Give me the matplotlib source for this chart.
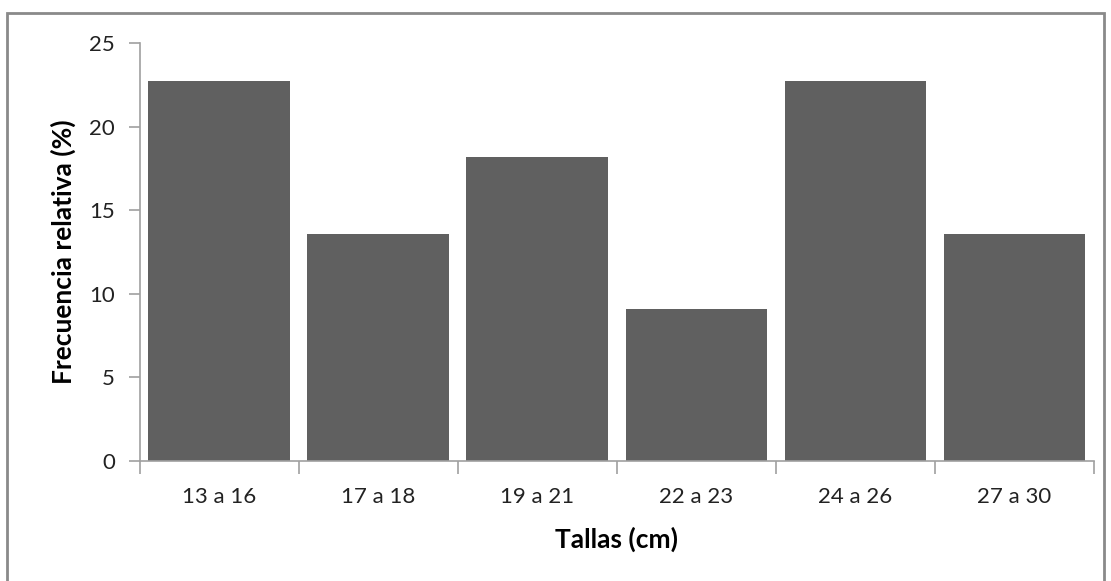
import matplotlib
matplotlib.use('Agg')
import matplotlib.pyplot as plt
import numpy as np

tallas = ['13 a 16', '17 a 18', '19 a 21', '22 a 23', '24 a 26', '27 a 30']
frecuencia = [22.7, 13.6, 18.2, 9.1, 22.7, 13.6]

plt.rcParams['font.family'] = ['Lato', 'DejaVu Sans']

fig = plt.figure(figsize=(11.11, 5.81), dpi=100)
ax = fig.add_axes([0.126, 0.2065, 0.8587, 0.7195])

x = np.arange(len(tallas))
ax.bar(x, frecuencia, width=0.893, color='#606060', zorder=2)

ax.set_xlim(-0.5, len(tallas) - 0.5)
ax.set_ylim(0, 25)
ax.set_yticks([0, 5, 10, 15, 20, 25])
ax.set_xticks(x)
ax.set_xticklabels(tallas)
ax.set_xticks(np.arange(len(tallas) + 1) - 0.5, minor=True)
ax.tick_params(axis='x', which='major', length=0, pad=19, labelsize=16, labelcolor='#222222')
ax.tick_params(axis='x', which='minor', length=9, color='#a0a0a0', width=1.2)
ax.tick_params(axis='y', length=8, color='#a0a0a0', width=1.2, pad=10, labelsize=16, labelcolor='#222222')

for s in ['top', 'right']:
    ax.spines[s].set_visible(False)
for s in ['left', 'bottom']:
    ax.spines[s].set_color('#a0a0a0')
    ax.spines[s].set_linewidth(1.2)

ax.set_xlabel('Tallas (cm)', fontsize=19, fontweight='bold')
ax.set_ylabel('Frecuencia relativa (%)', fontsize=19, fontweight='bold')
ax.xaxis.set_label_coords(0.5, (581 - 527 - 120) / 418.0)
ax.yaxis.set_label_coords((76 - 140) / 954.0, 0.5)

# marco exterior
fig.patches.append(plt.Rectangle((0.0065, -0.05), 0.987, 1.027, transform=fig.transFigure,
                                 fill=False, edgecolor='#8a8a8a', linewidth=2))

fig.savefig('out.png', dpi=100)
